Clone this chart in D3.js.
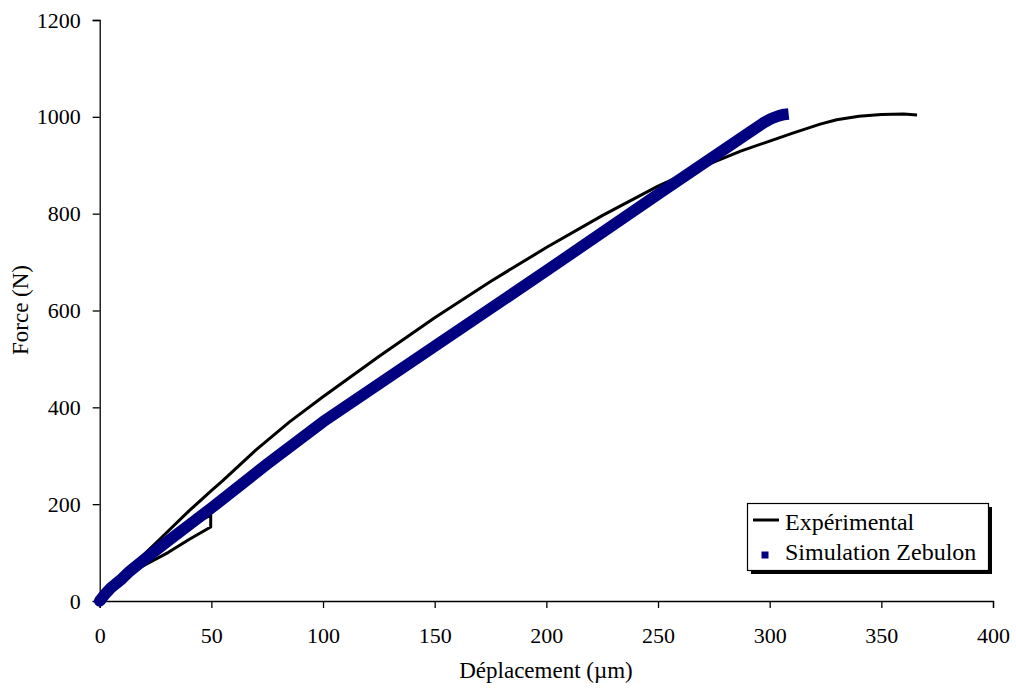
<!DOCTYPE html>
<html><head><meta charset="utf-8">
<script src="https://cdn.jsdelivr.net/npm/d3@7"></script>
<style>body{margin:0;background:#fff}svg{display:block}text{font-family:"Liberation Serif","Times New Roman",serif;fill:#000}</style>
</head><body><svg id="c" width="1016" height="691"></svg>
<script>
const xTicks = [0,50,100,150,200,250,300,350,400];
const yTicks = [0,200,400,600,800,1000,1200];
const seriesNames = ["Expérimental","Simulation Zebulon"];
const expX = [0,3,7,13.6,20,30.6,40,49.7,49.7,35,20,8,4,12,20,27,40,50,55,70,85,100,125,150,175,200,225,250,261,287,300,310,322.6,330,340,350,360,366];
const expY = [0,20,38,58,74,100,127,153,178,140,88,42,28,62,97,128,186,228,248,312,370,422,505,585,660,730,796,857,880,929,950,966,985,994,1001,1005,1006,1004];
const simX = [0,2,5,10,13.6,20,30,40,50,75,100,150,200,250,290,297,301,304,306.5,308.5];
const simY = [0,12,27,46,62,86,122,157,192,283,370,526,682,840,965,987,997,1002,1005,1006];

const svg = d3.select("#c");
const x = d3.scaleLinear().domain([0,400]).range([99.7,993]);
const y = d3.scaleLinear().domain([0,1200]).range([601,20]);
const FS = 22;

const gx = svg.append("g").attr("transform","translate(0,601)")
  .call(d3.axisBottom(x).tickValues(xTicks).tickSize(7).tickFormat(d3.format("d")));
gx.selectAll("text").attr("y",42).attr("dy",0).style("font-size",FS+"px").style("font-family","Liberation Serif");
const gy = svg.append("g").attr("transform","translate(99.7,0)")
  .call(d3.axisLeft(y).tickValues(yTicks).tickSize(7).tickFormat(d3.format("d")));
gy.selectAll("text").attr("x",-19).style("font-size",FS+"px").style("font-family","Liberation Serif");
[gx,gy].forEach(g=>{g.select(".domain").attr("stroke","#000").attr("stroke-width",1.3);g.selectAll(".tick line").attr("stroke","#000").attr("stroke-width",1.3);});

const lineExp = d3.line().x((d,i)=>x(expX[i])).y((d,i)=>y(expY[i])).curve(d3.curveLinear);
const lineSim = d3.line().x((d,i)=>x(simX[i])).y((d,i)=>y(simY[i]));

svg.append("path").attr("d",lineExp(expX)).attr("fill","none").attr("stroke","#000").attr("stroke-width",3).attr("stroke-linejoin","round");
svg.append("path").attr("d",lineSim(simX)).attr("fill","none").attr("stroke","#000080").attr("stroke-width",11.5).attr("stroke-linejoin","round").attr("stroke-linecap","butt");
svg.append("circle").attr("cx",x(simX[0])).attr("cy",y(simY[0])).attr("r",5.75).attr("fill","#000080");

svg.append("text").attr("transform","translate(28,310) rotate(-90)").attr("text-anchor","middle").style("font-size","23px").text("Force (N)");
svg.append("text").attr("x",546).attr("y",678).attr("text-anchor","middle").style("font-size","23px").text("Déplacement (µm)");

// legend
const lg = svg.append("g");
lg.append("rect").attr("x",751).attr("y",507).attr("width",241).attr("height",67).attr("fill","#000");
lg.append("rect").attr("x",747.5).attr("y",503.5).attr("width",241).attr("height",67).attr("fill","#fff").attr("stroke","#000").attr("stroke-width",1.2);
lg.append("line").attr("x1",753).attr("x2",779).attr("y1",520).attr("y2",520).attr("stroke","#000").attr("stroke-width",3);
lg.append("rect").attr("x",761.5).attr("y",551.5).attr("width",7).attr("height",7).attr("fill","#000080");
lg.append("text").attr("x",785).attr("y",530).style("font-size","24px").text(seriesNames[0]);
lg.append("text").attr("x",785).attr("y",560).style("font-size","24px").text(seriesNames[1]);
</script></body></html>
